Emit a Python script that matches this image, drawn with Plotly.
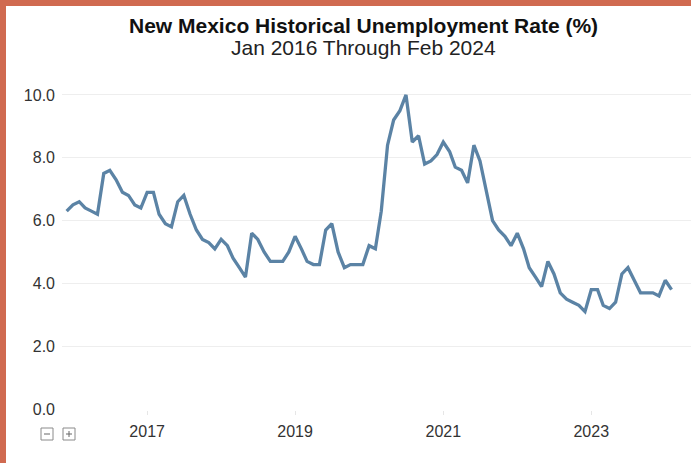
import pandas as pd
import plotly.graph_objects as go

# Monthly unemployment rate (%), New Mexico
start_month = "2015-12-01"
rates = [
    6.3, 6.5, 6.6, 6.4, 6.3, 6.2, 7.5, 7.6, 7.3, 6.9, 6.8, 6.5,
    6.4, 6.9, 6.9, 6.2, 5.9, 5.8, 6.6, 6.8, 6.2, 5.7, 5.4, 5.3,
    5.1, 5.4, 5.2, 4.8, 4.5, 4.2, 5.6, 5.4, 5.0, 4.7, 4.7, 4.7,
    5.0, 5.5, 5.1, 4.7, 4.6, 4.6, 5.7, 5.9, 5.0, 4.5, 4.6, 4.6,
    4.6, 5.2, 5.1, 6.3, 8.4, 9.2, 9.5, 10.0, 8.5, 8.7, 7.8, 7.9,
    8.1, 8.5, 8.2, 7.7, 7.6, 7.2, 8.4, 7.9, 7.0, 6.0, 5.7, 5.5,
    5.2, 5.6, 5.1, 4.5, 4.2, 3.9, 4.7, 4.3, 3.7, 3.5, 3.4, 3.3,
    3.1, 3.8, 3.8, 3.3, 3.2, 3.4, 4.3, 4.5, 4.1, 3.7, 3.7, 3.7,
    3.6, 4.1, 3.8,
]
months = pd.date_range(start_month, periods=len(rates), freq="MS")

y_ticks = [0, 2, 4, 6, 8, 10]
x_ticks = ["2017-01-01", "2019-01-01", "2021-01-01", "2023-01-01"]
x_tick_text = ["2017", "2019", "2021", "2023"]

title_text = "<b>New Mexico Historical Unemployment Rate (%)</b>"
subtitle_text = "Jan 2016 Through Feb 2024"

W, H = 691, 463
ML, MR, MT, MB = 62, 0, 88, 53
PW, PH = W - ML - MR, H - MT - MB


def px(x):
    return (x - ML) / PW


def py(y):
    return (H - MB - y) / PH


fig = go.Figure()
fig.add_trace(go.Scatter(
    x=months, y=rates, mode="lines",
    line=dict(color="#5b83a5", width=3.3),
    hoverinfo="x+y", showlegend=False,
))

font = "Liberation Sans, Arial, sans-serif"

shapes = [
    # frame strips
    dict(type="rect", xref="paper", yref="paper", x0=px(0), x1=px(6), y0=py(H), y1=py(0),
         fillcolor="#d06a50", line=dict(width=0), layer="above"),
    dict(type="rect", xref="paper", yref="paper", x0=px(0), x1=px(W), y0=py(6), y1=py(0),
         fillcolor="#d06a50", line=dict(width=0), layer="above"),
]
# zoom-out / zoom-in buttons
for bx, plus in ((41, False), (63, True)):
    shapes.append(dict(type="rect", xref="paper", yref="paper",
                       x0=px(bx), x1=px(bx + 12), y0=py(440), y1=py(428),
                       line=dict(color="#8a8a8a", width=1), fillcolor="white"))
    shapes.append(dict(type="line", xref="paper", yref="paper",
                       x0=px(bx + 3), x1=px(bx + 9), y0=py(434), y1=py(434),
                       line=dict(color="#666", width=1)))
    if plus:
        shapes.append(dict(type="line", xref="paper", yref="paper",
                           x0=px(bx + 6), x1=px(bx + 6), y0=py(437), y1=py(431),
                           line=dict(color="#666", width=1)))

fig.update_layout(
    width=W, height=H,
    margin=dict(l=ML, r=MR, t=MT, b=MB),
    paper_bgcolor="white", plot_bgcolor="white",
    font=dict(family=font, color="#333333", size=16),
    shapes=shapes,
    annotations=[
        dict(text=title_text, xref="paper", yref="paper", x=px(363), y=py(26),
             xanchor="center", yanchor="middle", showarrow=False,
             font=dict(size=21, color="#111111", family=font)),
        dict(text=subtitle_text, xref="paper", yref="paper", x=px(363), y=py(48),
             xanchor="center", yanchor="middle", showarrow=False,
             font=dict(size=21, color="#222222", family=font)),
    ],
    xaxis=dict(
        type="date",
        range=["2015-11-08", "2024-05-07"],
        tickvals=x_ticks, ticktext=x_tick_text,
        showgrid=False, zeroline=False, showline=False,
        ticks="outside", ticklen=4, tickcolor="#e6e6e6",
        ticklabelstandoff=3,
        tickfont=dict(size=16, color="#333333"),
        fixedrange=True,
    ),
    yaxis=dict(
        range=[-0.03, 10.22],
        tickvals=y_ticks, tickformat=".1f",
        showgrid=True, gridcolor="#eeeeee", gridwidth=1,
        zeroline=False, showline=False,
        ticks="", ticklabelstandoff=6,
        tickfont=dict(size=16, color="#333333"),
        fixedrange=True,
    ),
)

fig.write_html("out.html")
